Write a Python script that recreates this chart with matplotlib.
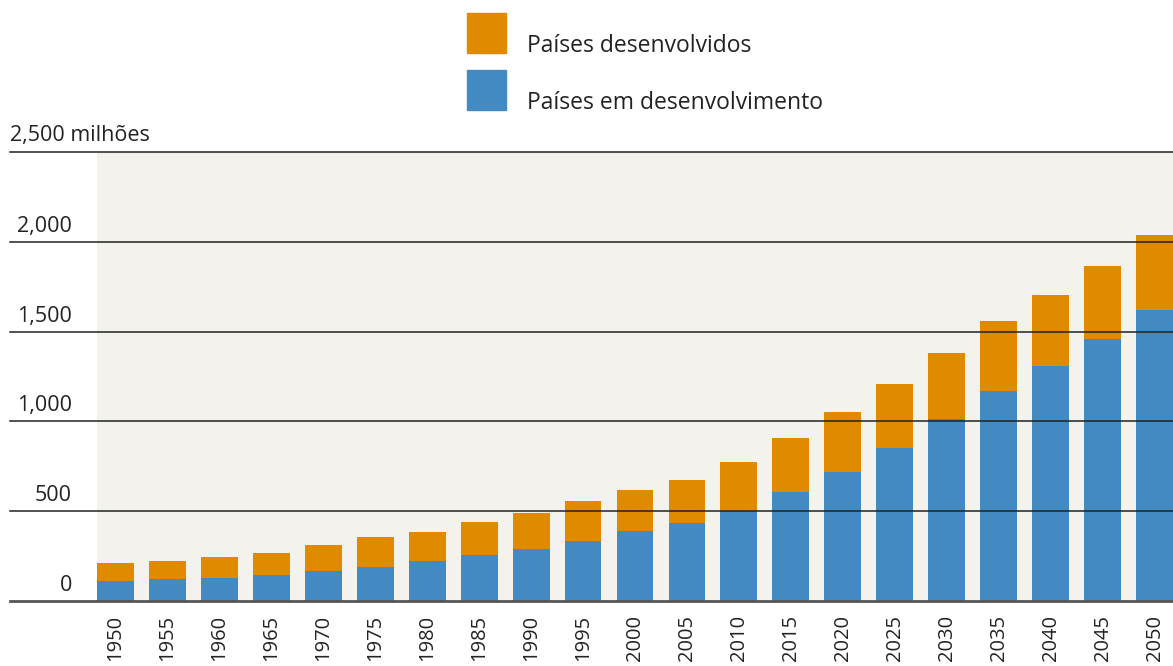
import matplotlib.pyplot as plt
from matplotlib.patches import Rectangle
import numpy as np

plt.rcParams['font.family'] = ['Open Sans', 'DejaVu Sans']

# data (millions)
anos = ['1950', '1955', '1960', '1965', '1970', '1975', '1980', '1985', '1990', '1995', '2000',
        '2005', '2010', '2015', '2020', '2025', '2030', '2035', '2040', '2045', '2050']
em_desenvolvimento = [112, 122, 129, 143, 165, 188, 223, 255, 290, 335, 388,
                      433, 502, 607, 719, 854, 1014, 1170, 1310, 1457, 1619]
total = [210, 225, 245, 268, 311, 356, 386, 438, 489, 556, 616,
         676, 772, 905, 1053, 1208, 1383, 1560, 1705, 1867, 2036]
desenvolvidos = [t - d for t, d in zip(total, em_desenvolvimento)]

y_ticks = [0, 500, 1000, 1500, 2000, 2500]
y_labels = ['0', '500', '1,000', '1,500', '2,000', '2,500 milhões']

laranja = '#E08A00'
azul = '#448AC2'
fundo = '#F3F2EC'

W, H = 1173, 666
fig = plt.figure(figsize=(W / 100, H / 100), dpi=100)
ax = fig.add_axes([97 / W, (H - 601) / H, (1173 - 97) / W, (601 - 152) / H])
ax.set_facecolor(fundo)

x = np.arange(len(anos))
largura = 0.71
ax.bar(x, em_desenvolvimento, width=largura, color=azul, zorder=3)
ax.bar(x, desenvolvidos, bottom=em_desenvolvimento, width=largura, color=laranja, zorder=3)
ax.set_xlim(-largura / 2, len(anos) - 1 + largura / 2)
ax.set_ylim(0, 2500)

for s in ax.spines.values():
    s.set_visible(False)
ax.set_yticks([])
ax.set_xticks(x)
ax.set_xticklabels(anos, rotation=90, fontsize=14.5, color='#222222')
ax.tick_params(axis='x', length=0, pad=10)

# horizontal rules running into the label margin
x0 = (10 - 97) / (1173 - 97)
for v, lab in zip(y_ticks, y_labels):
    if v == 0:
        ax.axhline(v, xmin=x0, xmax=1, color='#555555', lw=2, clip_on=False, zorder=4)
    else:
        ax.axhline(v, xmin=x0, xmax=1, color='#222222', lw=1.1, clip_on=False, zorder=4)
    ypix = 601 - v / 2500 * (601 - 152)
    if v == 2500:
        fig.text(10 / W, 1 - (ypix - 6) / H, lab, ha='left', va='bottom', fontsize=15.5, color='#222222')
    else:
        fig.text(72 / W, 1 - (ypix - 5) / H, lab, ha='right', va='bottom', fontsize=15.5, color='#222222')

# legend
for i, (nome, cor) in enumerate([('Países desenvolvidos', laranja), ('Países em desenvolvimento', azul)]):
    top = 13 + i * 57
    fig.add_artist(Rectangle((467 / W, 1 - (top + 40) / H), 39 / W, 40 / H,
                             transform=fig.transFigure, color=cor))
    fig.text(527 / W, 1 - (top + 33) / H, nome, ha='left', va='center', fontsize=16.5, color='#222222')

fig.savefig('out.png', dpi=100)
